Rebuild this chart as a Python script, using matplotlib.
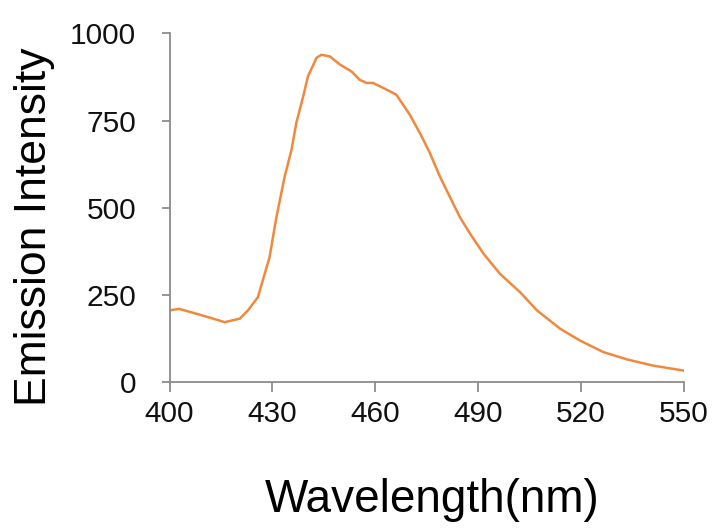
import matplotlib
matplotlib.use("Agg")
import matplotlib.pyplot as plt

plt.rcParams['font.family'] = ['Liberation Sans', 'DejaVu Sans']

# emission spectrum
wavelength = [400, 402.9, 409.7, 416.1, 420.5, 422.9, 425.8, 429.2, 431.2, 433.6,
              435.6, 437.0, 439.0, 440.4, 442.9, 444.3, 446.8, 449.7, 453.1, 455.5,
              457.5, 459.4, 464.3, 466.2, 470.1, 473.6, 476.0, 478.9, 481.8, 484.7,
              487.7, 491.6, 496.4, 502.3, 507.2, 514.0, 519.8, 526.6, 533.5, 541.2, 550]
intensity = [205, 209, 190, 171, 181, 205, 243, 358, 473, 589,
             666, 743, 819, 877, 930, 939, 934, 911, 891, 867,
             858, 858, 834, 824, 767, 704, 656, 589, 531, 473,
             425, 368, 310, 257, 205, 152, 118, 85, 64, 46, 32]

x_ticks = [400, 430, 460, 490, 520, 550]
y_ticks = [0, 250, 500, 750, 1000]

fig = plt.figure(figsize=(7.26, 5.29), dpi=100)
ax = fig.add_axes([169.5/726, 1-381.7/529, (683.6-169.5)/726, (381.7-33.5)/529])

ax.plot(wavelength, intensity, color='#F0883E', lw=1.8)

ax.set_xlim(400, 550)
ax.set_ylim(0, 1000)
ax.set_xticks(x_ticks)
ax.set_yticks(y_ticks)

for s in ['top', 'right']:
    ax.spines[s].set_visible(False)
for s in ['left', 'bottom']:
    ax.spines[s].set_color('#8c8c8c')
    ax.spines[s].set_linewidth(1.3)

ax.tick_params(axis='x', direction='out', length=7, width=1.3, color='#8c8c8c',
               labelsize=21.5, pad=6, labelcolor='#111111')
ax.tick_params(axis='y', direction='out', length=6, width=1.3, color='#8c8c8c',
               labelsize=21.5, pad=18, labelcolor='#111111')

fig.text(432/726, 1-512/529, 'Wavelength(nm)', fontsize=33,
         ha='center', va='baseline')
fig.text(46/726, 1-227/529, 'Emission Intensity', fontsize=32, rotation=90,
         rotation_mode='anchor', ha='center', va='baseline')

fig.savefig('out.png', dpi=100)
